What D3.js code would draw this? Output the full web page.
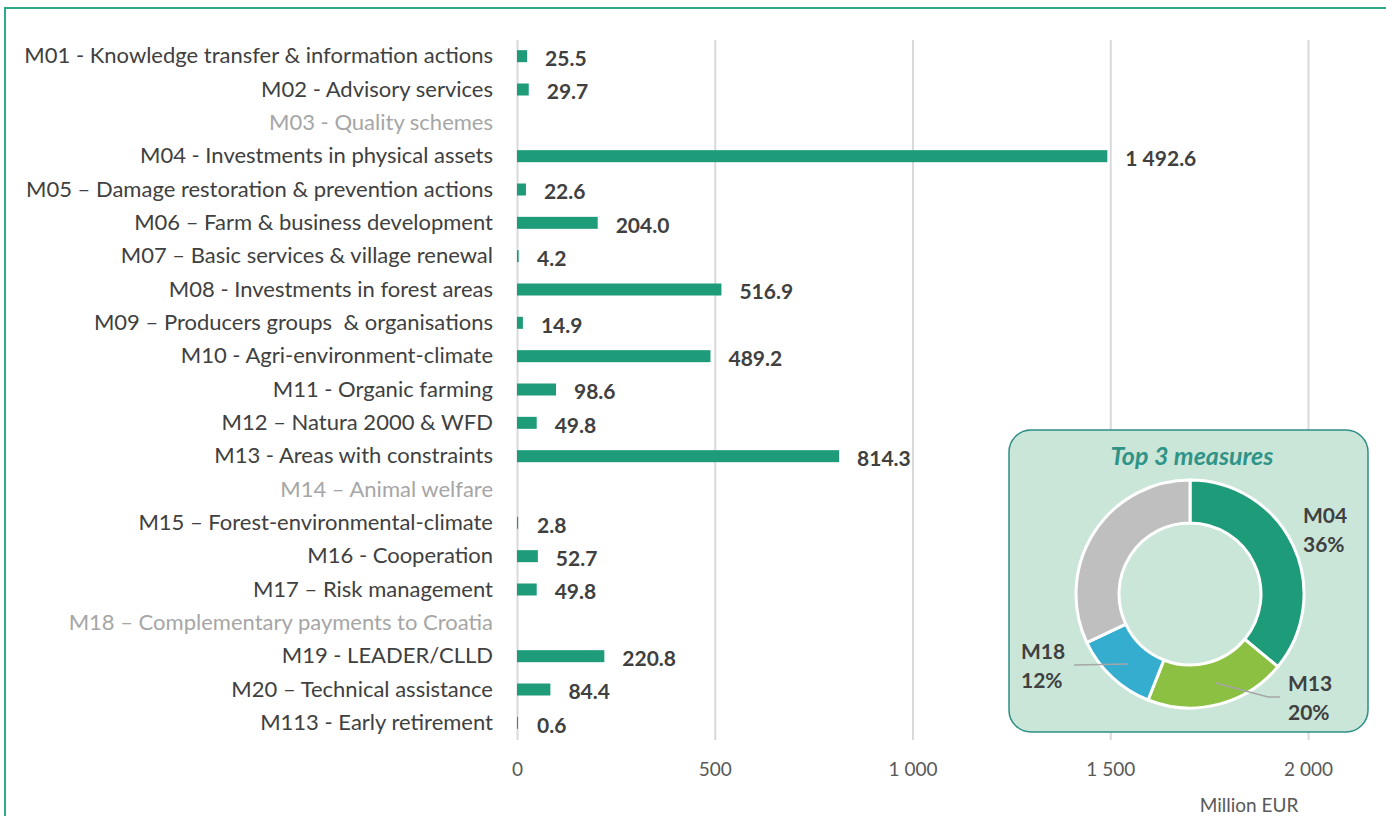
<!DOCTYPE html>
<html>
<head>
<meta charset="utf-8">
<script src="https://cdn.jsdelivr.net/npm/d3@7"></script>
<style>
  html, body { margin: 0; padding: 0; background: #fff; }
  svg { display: block; font-family: Lato, "Open Sans", sans-serif; }
  .cat { white-space: pre; }
</style>
</head>
<body>
<script>
// measures, in the order of the chart (top to bottom)
const measures = [
  "M01 - Knowledge transfer & information actions",
  "M02 - Advisory services",
  "M03 - Quality schemes",
  "M04 - Investments in physical assets",
  "M05 \u2013 Damage restoration & prevention actions",
  "M06 \u2013 Farm & business development",
  "M07 \u2013 Basic services & village renewal",
  "M08 - Investments in forest areas",
  "M09 \u2013 Producers groups  & organisations",
  "M10 - Agri-environment-climate",
  "M11 - Organic farming",
  "M12 \u2013 Natura 2000 & WFD",
  "M13 - Areas with constraints",
  "M14 \u2013 Animal welfare",
  "M15 \u2013 Forest-environmental-climate",
  "M16 - Cooperation",
  "M17 \u2013 Risk management",
  "M18 \u2013 Complementary payments to Croatia",
  "M19 - LEADER/CLLD",
  "M20 \u2013 Technical assistance",
  "M113 - Early retirement"
];
// million EUR, null = not programmed (label greyed out)
const amounts = [25.5, 29.7, null, 1492.6, 22.6, 204.0, 4.2, 516.9, 14.9, 489.2,
                 98.6, 49.8, 814.3, null, 2.8, 52.7, 49.8, null, 220.8, 84.4, 0.6];
const xTicks = [0, 500, 1000, 1500, 2000];

// donut "Top 3 measures"
const topNames = ["M04", "M13", "M18", ""];
const topShares = [36, 20, 12, 32];
const topColors = ["#1e9b78", "#8cc043", "#34adcf", "#bfbfbf"];

const W = 1386, H = 816;
const margin = {top: 40, left: 517, right: 78, bottom: 76};

const svg = d3.select("body").append("svg")
  .attr("width", W)
  .attr("height", H);

// outer frame
svg.append("rect")
  .attr("x", 5).attr("y", 8)
  .attr("width", W + 20).attr("height", H + 20)
  .attr("fill", "none")
  .attr("stroke", "#2fa98a")
  .attr("stroke-width", 2);

const x = d3.scaleLinear().domain([0, 2000]).range([margin.left, W - margin.right]);
const y = d3.scaleBand().domain(measures).range([margin.top, H - margin.bottom]);

const loc = d3.formatLocale({decimal: ".", thousands: " ", grouping: [3], currency: ["", ""]});
const fmtTick = loc.format(",.0f");
const fmtVal = loc.format(",.1f");

// gridlines + tick labels via axis
const axis = svg.append("g")
  .attr("transform", "translate(0," + (H - margin.bottom) + ")")
  .call(d3.axisBottom(x).tickValues(xTicks).tickFormat(fmtTick)
        .tickSize(-(H - margin.top - margin.bottom)).tickPadding(23));
axis.select(".domain").remove();
axis.selectAll(".tick line").attr("stroke", "#d9d9d9").attr("stroke-width", 2);
axis.selectAll(".tick text")
  .attr("fill", "#595959")
  .attr("font-size", 19)
  .attr("font-family", "Lato, sans-serif");

svg.append("text")
  .attr("x", 1249).attr("y", 812)
  .attr("text-anchor", "middle")
  .attr("font-size", 19)
  .attr("fill", "#595959")
  .text("Million EUR");

// category labels
svg.append("g").selectAll("text")
  .data(measures)
  .enter().append("text")
    .attr("class", "cat")
    .attr("x", margin.left - 24)
    .attr("y", d => y(d) + y.bandwidth() / 2 - 1)
    .attr("dy", "0.35em")
    .attr("text-anchor", "end")
    .attr("font-size", 22)
    .attr("fill", (d, i) => amounts[i] === null ? "#a6a6a6" : "#404040")
    .text(d => d);

const rows = measures.map((m, i) => ({m: m, v: amounts[i]})).filter(d => d.v !== null);

// bars
svg.append("g").selectAll("rect")
  .data(rows)
  .enter().append("rect")
    .attr("x", x(0))
    .attr("y", d => y(d.m) + y.bandwidth() / 2 - 6.5)
    .attr("width", d => Math.max(1, x(d.v) - x(0)))
    .attr("height", 12)
    .attr("fill", "#1e9b78");

// value labels
svg.append("g").selectAll("text")
  .data(rows)
  .enter().append("text")
    .attr("x", d => Math.max(x(d.v), x(0) + 2) + 18)
    .attr("y", d => y(d.m) + y.bandwidth() / 2 + 2)
    .attr("dy", "0.35em")
    .attr("font-size", 21)
    .attr("font-weight", "bold")
    .attr("fill", "#404040")
    .text(d => fmtVal(d.v));

// inset box with donut
const box = svg.append("g");
box.append("rect")
  .attr("x", 1009).attr("y", 430)
  .attr("width", 359).attr("height", 302)
  .attr("rx", 22).attr("ry", 22)
  .attr("fill", "#c9e6d9")
  .attr("stroke", "#2e8f86")
  .attr("stroke-width", 1.5);

box.append("text")
  .attr("x", 1192).attr("y", 465)
  .attr("text-anchor", "middle")
  .attr("font-size", 25)
  .attr("font-weight", "bold")
  .attr("font-style", "italic")
  .attr("fill", "#2f9487")
  .text("Top 3 measures");

const cx = 1190, cy = 594;
const pie = d3.pie().sort(null).value(d => d)(topShares);
const arc = d3.arc().innerRadius(71).outerRadius(114);

box.append("g")
  .attr("transform", "translate(" + cx + "," + cy + ")")
  .selectAll("path")
  .data(pie)
  .enter().append("path")
    .attr("d", arc)
    .attr("fill", (d, i) => topColors[i])
    .attr("stroke", "#fff")
    .attr("stroke-width", 3);

// leader lines
box.append("polyline")
  .attr("points", "1074,665 1128,664")
  .attr("fill", "none").attr("stroke", "#a6a6a6").attr("stroke-width", 1.5);
box.append("polyline")
  .attr("points", "1216,683 1268,697 1280,697")
  .attr("fill", "none").attr("stroke", "#a6a6a6").attr("stroke-width", 1.5);

const donutLabels = [
  {i: 0, x: 1303, y: 523},
  {i: 1, x: 1288, y: 691},
  {i: 2, x: 1021, y: 659}
];
donutLabels.forEach(l => {
  const t = box.append("text")
    .attr("x", l.x).attr("y", l.y)
    .attr("font-size", 21)
    .attr("font-weight", "bold")
    .attr("fill", "#404040");
  t.append("tspan").attr("x", l.x).text(topNames[l.i]);
  t.append("tspan").attr("x", l.x).attr("dy", 29).text(topShares[l.i] + "%");
});
</script>
</body>
</html>
